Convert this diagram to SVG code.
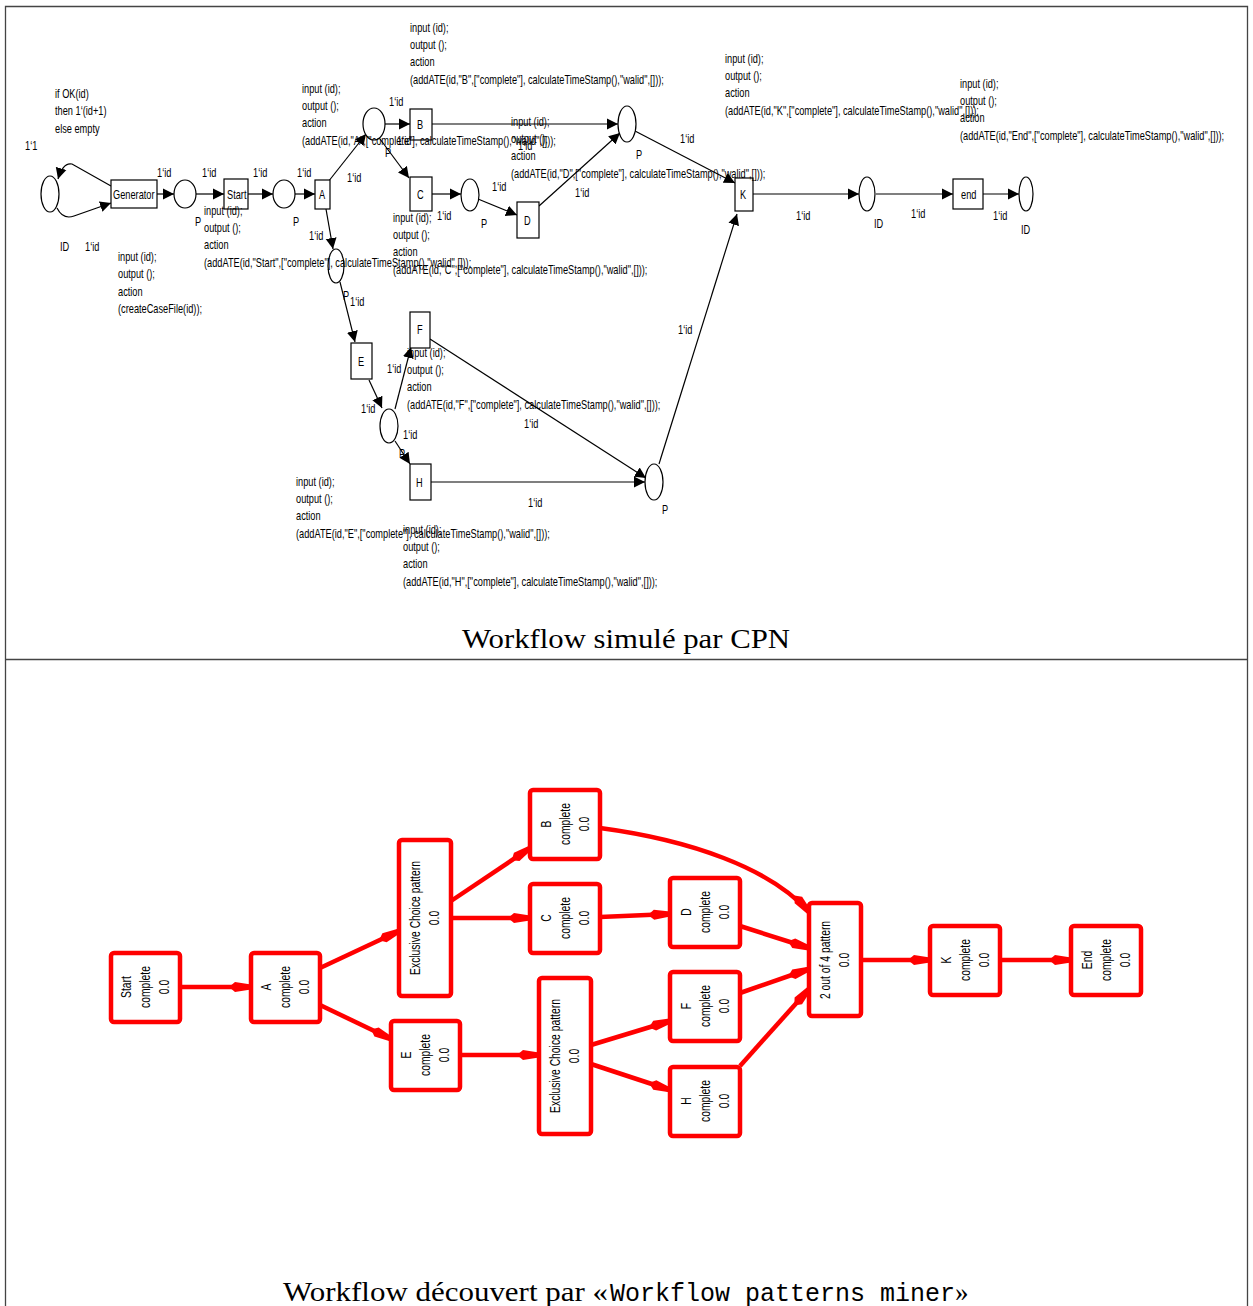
<svg xmlns="http://www.w3.org/2000/svg" width="1253" height="1306" viewBox="0 0 1253 1306">
<style>
.t{font-family:"Liberation Sans",Arial,sans-serif;font-size:13px;fill:#000}
.pl{fill:#fff;stroke:#000;stroke-width:1.2}
.tr{fill:#fff;stroke:#000;stroke-width:1.2}
.ar{fill:none;stroke:#000;stroke-width:1.2;marker-end:url(#ba)}
.n{fill:#fff;stroke:#ff0000;stroke-width:4.5}
.nt{font-family:"Liberation Sans",Arial,sans-serif;font-size:14px;fill:#000;text-anchor:middle}
.e{fill:none;stroke:#ff0000;stroke-width:4.5;marker-end:url(#ra)}
.cap{font-family:"Liberation Serif","DejaVu Serif",serif;font-size:27px;fill:#000}
.capm{font-family:"Liberation Mono","DejaVu Sans Mono",monospace;font-size:25px;fill:#000}
</style>
<defs>
<marker id="ba" markerUnits="userSpaceOnUse" markerWidth="12" markerHeight="12" refX="11" refY="6" orient="auto" viewBox="0 0 12 12"><path d="M0,0.5 L11,6 L0,11.5 Z" fill="#000"/></marker>
<marker id="ra" markerUnits="userSpaceOnUse" markerWidth="24" markerHeight="14" refX="22" refY="7" orient="auto" viewBox="0 0 24 14"><path d="M0,7 L6,2 L22,4.5 L22,9.5 L6,12 Z" fill="#ff0000"/></marker>
</defs>
<rect width="1253" height="1306" fill="#fff"/>
<g id="frame" fill="none" stroke="#444" stroke-width="1.3">
<path d="M5.5,1306 V6.5 H1247.5 V1306"/>
<path d="M5.5,659.5 H1247.5"/>
</g>

<!-- ===== Top: CPN ===== -->
<g id="cpn-connectors">
<path class="ar" d="M111,186 L72,164 Q63,162 58,179"/>
<path class="ar" d="M57,208 Q63,220 74,216 L111,203"/>
<path class="ar" d="M157,194 L174,194"/>
<path class="ar" d="M196,194 L224,194"/>
<path class="ar" d="M248,194 L273,194"/>
<path class="ar" d="M295,194 L315,194"/>
<path class="ar" d="M328,182 L366,134"/>
<path class="ar" d="M385,124 L410,124"/>
<path class="ar" d="M432,124 L618,124"/>
<path class="ar" d="M380,139 L409,178"/>
<path class="ar" d="M432,194 L461,194"/>
<path class="ar" d="M478,199 L517,215"/>
<path class="ar" d="M539,206 L620,133"/>
<path class="ar" d="M635,131 L735,183"/>
<path class="ar" d="M753,194 L859,194"/>
<path class="ar" d="M876,194 L953,194"/>
<path class="ar" d="M983,194 L1019,194"/>
<path class="ar" d="M326,209 L333,249"/>
<path class="ar" d="M340,282 L355,342"/>
<path class="ar" d="M369,380 L382,408"/>
<path class="ar" d="M395,409 L411,347"/>
<path class="ar" d="M430,339 L646,478"/>
<path class="ar" d="M395,441 L410,464"/>
<path class="ar" d="M431,482 L645,482"/>
<path class="ar" d="M659,464 L737,214"/>
</g>
<g id="p-id0"><ellipse class="pl" cx="50" cy="194" rx="9" ry="18"/></g>
<g id="t-generator"><rect class="tr" x="111" y="180" width="46" height="28"/><text class="t" transform="translate(113,198.5) scale(.71,1)">Generator</text></g>
<g id="p-1"><ellipse class="pl" cx="185" cy="194" rx="11" ry="14"/></g>
<g id="t-start"><rect class="tr" x="224" y="179" width="24" height="30"/><text class="t" transform="translate(227,198.5) scale(.71,1)">Start</text></g>
<g id="p-2"><ellipse class="pl" cx="284" cy="194" rx="11" ry="14"/></g>
<g id="t-a"><rect class="tr" x="315" y="180" width="15" height="29"/><text class="t" transform="translate(319,198.5) scale(.71,1)">A</text></g>
<g id="p-3"><ellipse class="pl" cx="374" cy="124" rx="11" ry="16"/></g>
<g id="t-b"><rect class="tr" x="410" y="109" width="22" height="31"/><text class="t" transform="translate(417,128.5) scale(.71,1)">B</text></g>
<g id="p-4"><ellipse class="pl" cx="627" cy="124" rx="9" ry="18"/></g>
<g id="t-c"><rect class="tr" x="410" y="177" width="22" height="34"/><text class="t" transform="translate(417,198.5) scale(.71,1)">C</text></g>
<g id="p-5"><ellipse class="pl" cx="470" cy="195" rx="9" ry="16"/></g>
<g id="t-d"><rect class="tr" x="517" y="202" width="22" height="36"/><text class="t" transform="translate(524,224.5) scale(.71,1)">D</text></g>
<g id="t-k"><rect class="tr" x="735" y="178" width="18" height="33"/><text class="t" transform="translate(740,198.5) scale(.71,1)">K</text></g>
<g id="p-6"><ellipse class="pl" cx="867" cy="194" rx="8" ry="17"/></g>
<g id="t-end"><rect class="tr" x="953" y="179" width="30" height="30"/><text class="t" transform="translate(961,198.5) scale(.71,1)">end</text></g>
<g id="p-7"><ellipse class="pl" cx="1026" cy="194" rx="7" ry="17"/></g>
<g id="p-8"><ellipse class="pl" cx="336" cy="266" rx="8" ry="17"/></g>
<g id="t-e"><rect class="tr" x="351" y="343" width="21" height="36"/><text class="t" transform="translate(358,365.5) scale(.71,1)">E</text></g>
<g id="p-9"><ellipse class="pl" cx="389" cy="426" rx="9" ry="17"/></g>
<g id="t-f"><rect class="tr" x="410" y="312" width="20" height="36"/><text class="t" transform="translate(417,334) scale(.71,1)">F</text></g>
<g id="t-h"><rect class="tr" x="410" y="464" width="21" height="36"/><text class="t" transform="translate(416,486.5) scale(.71,1)">H</text></g>
<g id="p-10"><ellipse class="pl" cx="654" cy="482" rx="9" ry="18"/></g>

<g id="cpn-labels">
<text class="t" transform="translate(25,150) scale(.71,1)">1‘1</text>
<text class="t" transform="translate(55,98) scale(.71,1)"><tspan x="0" y="0">if OK(id)</tspan><tspan x="0" y="17.5">then 1‘(id+1)</tspan><tspan x="0" y="35">else empty</tspan></text>
<text class="t" transform="translate(60,251) scale(.71,1)">ID</text>
<text class="t" transform="translate(85,251) scale(.71,1)">1‘id</text>
<text class="t" transform="translate(118,261) scale(.71,1)"><tspan x="0" y="0">input (id);</tspan><tspan x="0" y="17.5">output ();</tspan><tspan x="0" y="35">action</tspan><tspan x="0" y="52.5">(createCaseFile(id));</tspan></text>
<text class="t" transform="translate(157,177) scale(.71,1)">1‘id</text>
<text class="t" transform="translate(202,177) scale(.71,1)">1‘id</text>
<text class="t" transform="translate(253,177) scale(.71,1)">1‘id</text>
<text class="t" transform="translate(297,177) scale(.71,1)">1‘id</text>
<text class="t" transform="translate(195,226) scale(.71,1)">P</text>
<text class="t" transform="translate(293,226) scale(.71,1)">P</text>
<text class="t" transform="translate(204,214.5) scale(.71,1)"><tspan x="0" y="0">input (id);</tspan><tspan x="0" y="17.5">output ();</tspan><tspan x="0" y="35">action</tspan><tspan x="0" y="52.5">(addATE(id,"Start",["complete"], calculateTimeStamp(),"walid",[]));</tspan></text>
<text class="t" transform="translate(302,92.5) scale(.71,1)"><tspan x="0" y="0">input (id);</tspan><tspan x="0" y="17.5">output ();</tspan><tspan x="0" y="35">action</tspan><tspan x="0" y="52.5">(addATE(id,"A",["complete"], calculateTimeStamp(),"walid",[]));</tspan></text>
<text class="t" transform="translate(347,182) scale(.71,1)">1‘id</text>
<text class="t" transform="translate(389,106) scale(.71,1)">1‘id</text>
<text class="t" transform="translate(385,157) scale(.71,1)">P</text>
<text class="t" transform="translate(397,145) scale(.71,1)">1‘id</text>
<text class="t" transform="translate(410,31.5) scale(.71,1)"><tspan x="0" y="0">input (id);</tspan><tspan x="0" y="17.5">output ();</tspan><tspan x="0" y="35">action</tspan><tspan x="0" y="52.5">(addATE(id,"B",["complete"], calculateTimeStamp(),"walid",[]));</tspan></text>
<text class="t" transform="translate(518,150) scale(.71,1)">1‘id</text>
<text class="t" transform="translate(511,125.5) scale(.71,1)"><tspan x="0" y="0">input (id);</tspan><tspan x="0" y="17.5">output ();</tspan><tspan x="0" y="35">action</tspan><tspan x="0" y="52.5">(addATE(id,"D",["complete"], calculateTimeStamp(),"walid",[]));</tspan></text>
<text class="t" transform="translate(492,191) scale(.71,1)">1‘id</text>
<text class="t" transform="translate(575,197) scale(.71,1)">1‘id</text>
<text class="t" transform="translate(481,228) scale(.71,1)">P</text>
<text class="t" transform="translate(437,220) scale(.71,1)">1‘id</text>
<text class="t" transform="translate(393,221.5) scale(.71,1)"><tspan x="0" y="0">input (id);</tspan><tspan x="0" y="17.5">output ();</tspan><tspan x="0" y="35">action</tspan><tspan x="0" y="52.5">(addATE(id,"C",["complete"], calculateTimeStamp(),"walid",[]));</tspan></text>
<text class="t" transform="translate(636,159) scale(.71,1)">P</text>
<text class="t" transform="translate(680,143) scale(.71,1)">1‘id</text>
<text class="t" transform="translate(725,62.5) scale(.71,1)"><tspan x="0" y="0">input (id);</tspan><tspan x="0" y="17.5">output ();</tspan><tspan x="0" y="35">action</tspan><tspan x="0" y="52.5">(addATE(id,"K",["complete"], calculateTimeStamp(),"walid",[]));</tspan></text>
<text class="t" transform="translate(796,220) scale(.71,1)">1‘id</text>
<text class="t" transform="translate(874,228) scale(.71,1)">ID</text>
<text class="t" transform="translate(911,218) scale(.71,1)">1‘id</text>
<text class="t" transform="translate(960,87.5) scale(.71,1)"><tspan x="0" y="0">input (id);</tspan><tspan x="0" y="17.5">output ();</tspan><tspan x="0" y="35">action</tspan><tspan x="0" y="52.5">(addATE(id,"End",["complete"], calculateTimeStamp(),"walid",[]));</tspan></text>
<text class="t" transform="translate(993,220) scale(.71,1)">1‘id</text>
<text class="t" transform="translate(1021,234) scale(.71,1)">ID</text>
<text class="t" transform="translate(309,240) scale(.71,1)">1‘id</text>
<text class="t" transform="translate(343,300) scale(.71,1)">P</text>
<text class="t" transform="translate(350,306) scale(.71,1)">1‘id</text>
<text class="t" transform="translate(387,373) scale(.71,1)">1‘id</text>
<text class="t" transform="translate(361,413) scale(.71,1)">1‘id</text>
<text class="t" transform="translate(407,356.5) scale(.71,1)"><tspan x="0" y="0">input (id);</tspan><tspan x="0" y="17.5">output ();</tspan><tspan x="0" y="35">action</tspan><tspan x="0" y="52.5">(addATE(id,"F",["complete"], calculateTimeStamp(),"walid",[]));</tspan></text>
<text class="t" transform="translate(524,428) scale(.71,1)">1‘id</text>
<text class="t" transform="translate(403,439) scale(.71,1)">1‘id</text>
<text class="t" transform="translate(399,458) scale(.71,1)">P</text>
<text class="t" transform="translate(678,334) scale(.71,1)">1‘id</text>
<text class="t" transform="translate(528,507) scale(.71,1)">1‘id</text>
<text class="t" transform="translate(662,514) scale(.71,1)">P</text>
<text class="t" transform="translate(296,485.5) scale(.71,1)"><tspan x="0" y="0">input (id);</tspan><tspan x="0" y="17.5">output ();</tspan><tspan x="0" y="35">action</tspan><tspan x="0" y="52.5">(addATE(id,"E",["complete"], calculateTimeStamp(),"walid",[]));</tspan></text>
<text class="t" transform="translate(403,533.5) scale(.71,1)"><tspan x="0" y="0">input (id);</tspan><tspan x="0" y="17.5">output ();</tspan><tspan x="0" y="35">action</tspan><tspan x="0" y="52.5">(addATE(id,"H",["complete"], calculateTimeStamp(),"walid",[]));</tspan></text>
</g>
<text id="caption1" class="cap" x="462" y="648" textLength="328" lengthAdjust="spacingAndGlyphs">Workflow simulé par CPN</text>

<!-- ===== Bottom: discovered workflow ===== -->
<g id="wf-connectors">
<path class="e" d="M180,987 L251,987"/>
<path class="e" d="M320,968 L399,931"/>
<path class="e" d="M320,1005 L391,1039"/>
<path class="e" d="M451,901 L530,848"/>
<path class="e" d="M451,918 L530,918"/>
<path class="e" d="M600,917 L670,914"/>
<path class="e" d="M600,828 C690,840 770,868 809,912"/>
<path class="e" d="M740,926 L809,948"/>
<path class="e" d="M460,1055 L539,1055"/>
<path class="e" d="M591,1045 L670,1021"/>
<path class="e" d="M591,1064 L670,1090"/>
<path class="e" d="M740,993 L809,969"/>
<path class="e" d="M740,1066 L809,989"/>
<path class="e" d="M861,960 L930,960"/>
<path class="e" d="M1000,960 L1071,960"/>
</g>
<g id="n-start"><rect class="n" x="111" y="953" width="69" height="69" rx="3"/><text class="nt" transform="translate(145,987) rotate(-90) scale(.74,1)"><tspan x="0" y="-14.5">Start</tspan><tspan x="0" y="5">complete</tspan><tspan x="0" y="24.5">0.0</tspan></text></g>
<g id="n-a"><rect class="n" x="251" y="953" width="69" height="69" rx="3"/><text class="nt" transform="translate(285,987) rotate(-90) scale(.74,1)"><tspan x="0" y="-14.5">A</tspan><tspan x="0" y="5">complete</tspan><tspan x="0" y="24.5">0.0</tspan></text></g>
<g id="n-xor1"><rect class="n" x="399" y="840" width="52" height="156" rx="3"/><text class="nt" transform="translate(425,918) rotate(-90) scale(.74,1)"><tspan x="0" y="-5">Exclusive Choice pattern</tspan><tspan x="0" y="14.5">0.0</tspan></text></g>
<g id="n-e"><rect class="n" x="391" y="1021" width="69" height="69" rx="3"/><text class="nt" transform="translate(425,1055) rotate(-90) scale(.74,1)"><tspan x="0" y="-14.5">E</tspan><tspan x="0" y="5">complete</tspan><tspan x="0" y="24.5">0.0</tspan></text></g>
<g id="n-b"><rect class="n" x="530" y="790" width="70" height="69" rx="3"/><text class="nt" transform="translate(565,824) rotate(-90) scale(.74,1)"><tspan x="0" y="-14.5">B</tspan><tspan x="0" y="5">complete</tspan><tspan x="0" y="24.5">0.0</tspan></text></g>
<g id="n-c"><rect class="n" x="530" y="884" width="70" height="69" rx="3"/><text class="nt" transform="translate(565,918) rotate(-90) scale(.74,1)"><tspan x="0" y="-14.5">C</tspan><tspan x="0" y="5">complete</tspan><tspan x="0" y="24.5">0.0</tspan></text></g>
<g id="n-d"><rect class="n" x="670" y="878" width="70" height="69" rx="3"/><text class="nt" transform="translate(705,912) rotate(-90) scale(.74,1)"><tspan x="0" y="-14.5">D</tspan><tspan x="0" y="5">complete</tspan><tspan x="0" y="24.5">0.0</tspan></text></g>
<g id="n-xor2"><rect class="n" x="539" y="978" width="52" height="156" rx="3"/><text class="nt" transform="translate(565,1056) rotate(-90) scale(.74,1)"><tspan x="0" y="-5">Exclusive Choice pattern</tspan><tspan x="0" y="14.5">0.0</tspan></text></g>
<g id="n-f"><rect class="n" x="670" y="972" width="70" height="69" rx="3"/><text class="nt" transform="translate(705,1006) rotate(-90) scale(.74,1)"><tspan x="0" y="-14.5">F</tspan><tspan x="0" y="5">complete</tspan><tspan x="0" y="24.5">0.0</tspan></text></g>
<g id="n-h"><rect class="n" x="670" y="1067" width="70" height="69" rx="3"/><text class="nt" transform="translate(705,1101) rotate(-90) scale(.74,1)"><tspan x="0" y="-14.5">H</tspan><tspan x="0" y="5">complete</tspan><tspan x="0" y="24.5">0.0</tspan></text></g>
<g id="n-2of4"><rect class="n" x="809" y="903" width="52" height="113" rx="3"/><text class="nt" transform="translate(835,960) rotate(-90) scale(.74,1)"><tspan x="0" y="-5">2 out of 4 pattern</tspan><tspan x="0" y="14.5">0.0</tspan></text></g>
<g id="n-k"><rect class="n" x="930" y="926" width="70" height="69" rx="3"/><text class="nt" transform="translate(965,960) rotate(-90) scale(.74,1)"><tspan x="0" y="-14.5">K</tspan><tspan x="0" y="5">complete</tspan><tspan x="0" y="24.5">0.0</tspan></text></g>
<g id="n-end"><rect class="n" x="1071" y="926" width="70" height="69" rx="3"/><text class="nt" transform="translate(1106,960) rotate(-90) scale(.74,1)"><tspan x="0" y="-14.5">End</tspan><tspan x="0" y="5">complete</tspan><tspan x="0" y="24.5">0.0</tspan></text></g>

<g id="caption2">
<text class="cap" x="283" y="1301" textLength="325" lengthAdjust="spacingAndGlyphs">Workflow découvert par «</text>
<text class="capm" x="610" y="1301" textLength="345" lengthAdjust="spacingAndGlyphs">Workflow patterns miner</text>
<text class="cap" x="955" y="1301">»</text>
</g>
</svg>
